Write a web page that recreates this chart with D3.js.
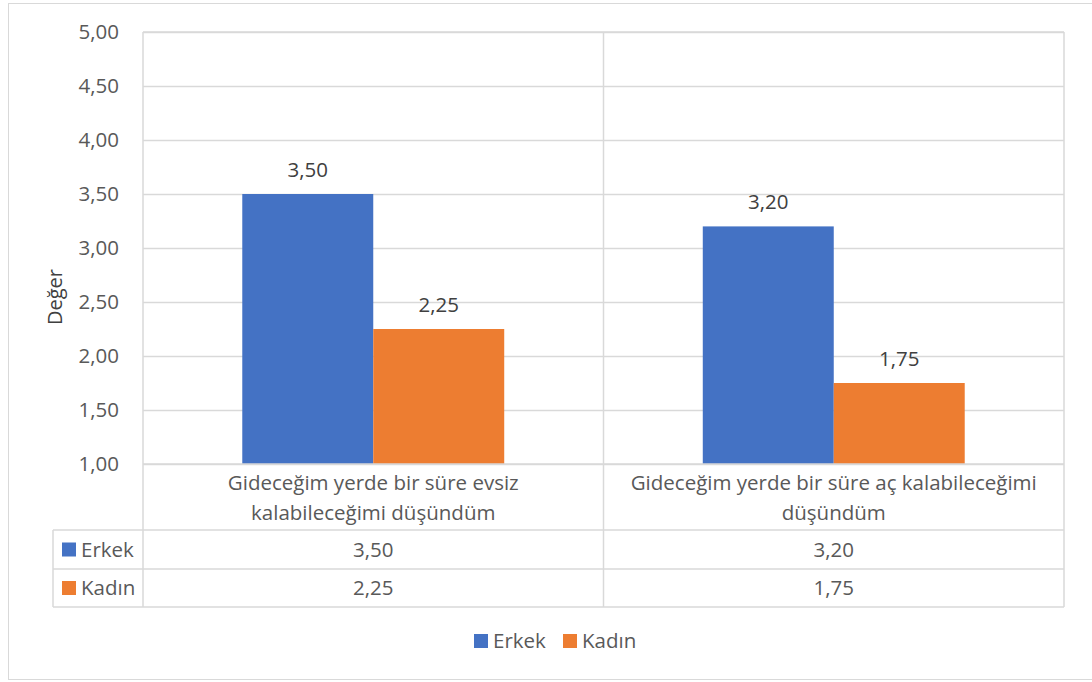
<!DOCTYPE html>
<html>
<head>
<meta charset="utf-8">
<script src="https://cdn.jsdelivr.net/npm/d3@7"></script>
<style>
  body { margin: 0; background: #fff; }
  svg { font-family: "Open Sans", "Noto Sans", sans-serif; }
</style>
</head>
<body>
<svg width="1092" height="682"></svg>
<script>
var width = 1092, height = 682;

// data
var categories = [
    ["Gideceğim yerde bir süre evsiz", "kalabileceğimi düşündüm"],
    ["Gideceğim yerde bir süre aç kalabileceğimi", "düşündüm"]
];
var seriesNames = ["Erkek", "Kadın"];
var erkek = [3.50, 3.20];
var kadin = [2.25, 1.75];
var yTicks = [1.00, 1.50, 2.00, 2.50, 3.00, 3.50, 4.00, 4.50, 5.00];
var colors = ["#4472C4", "#ED7D31"];

var seriesValues = [erkek, kadin];
var grid = "#d9d9d9", textCol = "#595959", labelCol = "#404040";
var FS = "20.5px";

var svg = d3.select("svg");
var fmt = function (v) { return d3.format(".2f")(v).replace(".", ","); };

// outer chart border
svg.append("rect")
    .attr("x", 8.5).attr("y", 3.5)
    .attr("width", 1090).attr("height", 676)
    .attr("fill", "none").attr("stroke", grid);

var plot = {left: 143, right: 1064, top: 32, bottom: 464};
var y = d3.scaleLinear().domain([1, 5]).range([plot.bottom, plot.top]);
var x0 = d3.scaleBand().domain(d3.range(categories.length)).range([plot.left, plot.right]).padding(0);
var x1 = d3.scaleBand().domain(d3.range(seriesNames.length)).range([0, x0.bandwidth()])
    .paddingInner(0).paddingOuter(0.758);

// gridlines
svg.append("g").selectAll("line").data(yTicks).enter().append("line")
    .attr("x1", plot.left).attr("x2", plot.right)
    .attr("y1", function (d) { return Math.round(y(d)) + 0.5; })
    .attr("y2", function (d) { return Math.round(y(d)) + 0.5; })
    .attr("stroke", grid).attr("stroke-width", 1.5);

// y axis labels
var yAxis = svg.append("g")
    .attr("transform", "translate(" + (plot.left - 24) + ",0)")
    .call(d3.axisLeft(y).tickValues(yTicks).tickFormat(fmt).tickSize(0).tickPadding(0));
yAxis.select(".domain").remove();
yAxis.selectAll("text").attr("fill", textCol).style("font-size", FS)
    .style("font-family", "'Open Sans', 'Noto Sans', sans-serif");

// axis title
svg.append("text")
    .attr("transform", "translate(62,297) rotate(-90)")
    .attr("text-anchor", "middle")
    .attr("fill", labelCol)
    .style("font-size", "20px")
    .text("Değer");

// bars
var groups = svg.append("g").selectAll("g").data(categories).enter().append("g")
    .attr("transform", function (d, i) { return "translate(" + x0(i) + ",0)"; });

groups.selectAll("rect")
    .data(function (d, i) { return seriesValues.map(function (s, j) { return {s: j, v: s[i]}; }); })
    .enter().append("rect")
    .attr("x", function (d) { return x1(d.s); })
    .attr("y", function (d) { return y(d.v); })
    .attr("width", x1.bandwidth())
    .attr("height", function (d) { return y(1) - y(d.v); })
    .attr("fill", function (d) { return colors[d.s]; });

groups.selectAll("text.val")
    .data(function (d, i) { return seriesValues.map(function (s, j) { return {s: j, v: s[i]}; }); })
    .enter().append("text")
    .attr("class", "val")
    .attr("x", function (d) { return x1(d.s) + x1.bandwidth() / 2; })
    .attr("y", function (d) { return y(d.v) - 17; })
    .attr("text-anchor", "middle")
    .attr("fill", labelCol)
    .style("font-size", FS)
    .text(function (d) { return fmt(d.v); });

// data table lines
var rowY = [plot.bottom, 530, 569, 607];
var tableLeft = 53;
var lines = svg.append("g").attr("stroke", grid).attr("stroke-width", 1.5);
lines.append("line").attr("x1", plot.left).attr("x2", plot.right).attr("y1", rowY[0]).attr("y2", rowY[0]);
rowY.slice(1).forEach(function (ry) {
    lines.append("line").attr("x1", tableLeft).attr("x2", plot.right).attr("y1", ry).attr("y2", ry);
});
// vertical lines: plot edges + category boundaries
x0.domain().forEach(function (i) {
    lines.append("line").attr("x1", x0(i)).attr("x2", x0(i)).attr("y1", plot.top).attr("y2", rowY[3]);
});
lines.append("line").attr("x1", plot.right).attr("x2", plot.right).attr("y1", plot.top).attr("y2", rowY[3]);
lines.append("line").attr("x1", plot.left).attr("x2", plot.right).attr("y1", plot.top).attr("y2", plot.top);
lines.append("line").attr("x1", tableLeft).attr("x2", tableLeft).attr("y1", rowY[1]).attr("y2", rowY[3]);

// category labels
categories.forEach(function (c, i) {
    var t = svg.append("text")
        .attr("x", x0(i) + x0.bandwidth() / 2)
        .attr("text-anchor", "middle")
        .attr("fill", textCol)
        .style("font-size", FS);
    c.forEach(function (line, k) {
        t.append("tspan").attr("x", x0(i) + x0.bandwidth() / 2).attr("y", 490 + k * 30).text(line);
    });
});

// table rows
seriesNames.forEach(function (name, j) {
    var cy = (rowY[j + 1] + rowY[j + 2]) / 2;
    svg.append("rect").attr("x", 62).attr("y", cy - 7).attr("width", 14).attr("height", 14).attr("fill", colors[j]);
    svg.append("text").attr("x", 81).attr("y", cy + 7).attr("fill", textCol)
        .style("font-size", FS).text(name);
    seriesValues[j].forEach(function (v, i) {
        svg.append("text")
            .attr("x", x0(i) + x0.bandwidth() / 2).attr("y", cy + 7)
            .attr("text-anchor", "middle").attr("fill", textCol)
            .style("font-size", FS).text(fmt(v));
    });
});

// legend
var legendX = [474, 563];
seriesNames.forEach(function (name, j) {
    svg.append("rect").attr("x", legendX[j]).attr("y", 634).attr("width", 14).attr("height", 14).attr("fill", colors[j]);
    svg.append("text").attr("x", legendX[j] + 19).attr("y", 648).attr("fill", textCol)
        .style("font-size", FS).text(name);
});
</script>
</body>
</html>
